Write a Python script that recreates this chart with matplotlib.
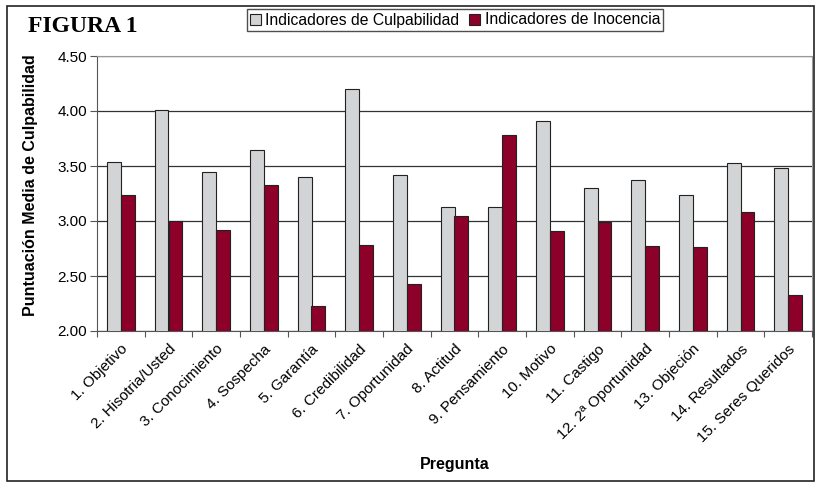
import matplotlib.pyplot as plt
import matplotlib.patches as mpatches
import numpy as np

preguntas = ["1. Objetivo", "2. Hisotria/Usted", "3. Conocimiento", "4. Sospecha",
             "5. Garantía", "6. Credibilidad", "7. Oportunidad", "8. Actitud",
             "9. Pensamiento", "10. Motivo", "11. Castigo", "12. 2ª Oportunidad",
             "13. Objeción", "14. Resultados", "15. Seres Queridos"]
culpabilidad = [3.54, 4.01, 3.45, 3.65, 3.40, 4.20, 3.42, 3.13,
                3.13, 3.91, 3.30, 3.37, 3.24, 3.53, 3.48]
inocencia = [3.24, 3.00, 2.92, 3.33, 2.23, 2.78, 2.43, 3.05,
             3.78, 2.91, 2.99, 2.77, 2.76, 3.08, 2.33]

plt.rcParams['font.family'] = ['Liberation Sans', 'DejaVu Sans']

fig = plt.figure(figsize=(8.18, 4.83), dpi=100)
ax = fig.add_axes([97/818, 1 - 331/483, 715/818, 275/483])

x = np.arange(len(preguntas))
w = 0.29
ax.bar(x - w/2, culpabilidad, w, color='#d3d4d6', edgecolor='#222222',
       linewidth=0.8, label='Indicadores de Culpabilidad', zorder=3)
ax.bar(x + w/2, inocencia, w, color='#8c0029', edgecolor='#222222',
       linewidth=0.8, label='Indicadores de Inocencia', zorder=3)

yt = [2.0, 2.5, 3.0, 3.5, 4.0, 4.5]
ax.set_ylim(2.0, 4.5)
ax.set_xlim(-0.5, len(preguntas) - 0.5)
ax.set_yticks(yt)
ax.set_yticklabels([f"{v:.2f}" for v in yt], fontsize=11)
ax.yaxis.grid(True, color='#333333', linewidth=0.9, zorder=0)

# ticks at group boundaries, labels at centres
ax.set_xticks(np.arange(len(preguntas) + 1) - 0.5)
ax.set_xticklabels([])
ax.set_xticks(x, minor=True)
ax.set_xticklabels(preguntas, minor=True, rotation=45, ha='right',
                   rotation_mode='anchor', fontsize=11)
ax.tick_params(axis='x', which='minor', length=0, pad=8)
ax.tick_params(axis='x', which='major', length=4, color='#555555')
ax.tick_params(axis='y', length=5, color='#555555', pad=2)

for s in ['top', 'right']:
    ax.spines[s].set_color('#999999')
for s in ['left', 'bottom']:
    ax.spines[s].set_color('#555555')

ax.set_ylabel('Puntuación Media de Culpabilidad', fontweight='bold', fontsize=11.5)
ax.yaxis.set_label_coords(-0.083, 0.53)
ax.set_xlabel('Pregunta', fontweight='bold', fontsize=11.5)
ax.xaxis.set_label_coords(0.5, -0.46)

fig.text(28/818, 1 - 26/483, 'FIGURA 1', family=['Liberation Serif', 'DejaVu Serif'],
         fontweight='bold', fontsize=17, va='center', ha='left')

fig.legend(loc='center', bbox_to_anchor=(455/818, 1 - 20/483), ncol=2, fontsize=11.3,
           frameon=True, fancybox=False, edgecolor='#222222', handlelength=0.7,
           handleheight=0.7, handletextpad=0.3, columnspacing=0.6, borderpad=0.2,
           borderaxespad=0)

# outer frame
fig.patches.append(mpatches.Rectangle((7/818, 2/483), 807/818, 475/483,
                                      transform=fig.transFigure, fill=False,
                                      edgecolor='#222222', linewidth=1.2))

fig.savefig('out.png', dpi=100)
